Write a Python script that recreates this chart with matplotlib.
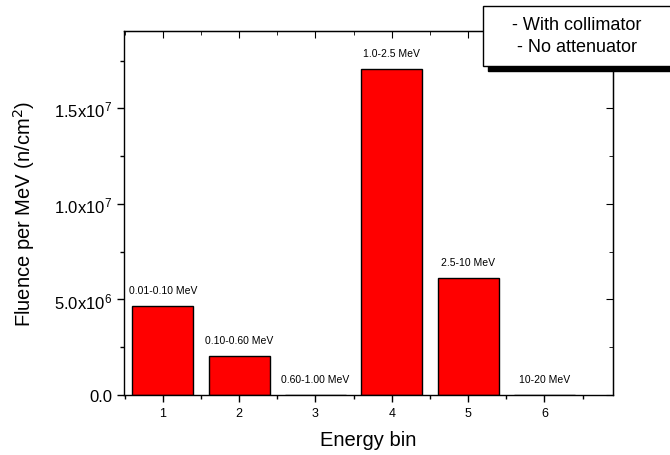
import matplotlib
matplotlib.use("Agg")
import matplotlib.pyplot as plt
from matplotlib.patches import Rectangle
from matplotlib.ticker import MultipleLocator, FuncFormatter

plt.rcParams['font.family'] = ['Liberation Sans', 'DejaVu Sans']

# fluence per energy bin
bins = [1, 2, 3, 4, 5, 6]
fluence = [4.68e6, 2.06e6, 0.0, 1.705e7, 6.12e6, 0.0]
bin_labels = ['0.01-0.10 MeV', '0.10-0.60 MeV', '0.60-1.00 MeV',
              '1.0-2.5 MeV', '2.5-10 MeV', '10-20 MeV']
notes = ['- With collimator', '- No attenuator']

fig = plt.figure(figsize=(6.7, 4.56), dpi=100)
ax = fig.add_axes([0.185, 0.1316, 0.73, 0.7982])

ax.bar(bins, fluence, width=0.8, color='#ff0000', edgecolor='black', linewidth=1.0)

for x, y, lab in zip(bins, fluence, bin_labels):
    ax.annotate(lab, (x, y), xytext=(0, 11.5), textcoords='offset points',
                ha='center', va='center', fontsize=7.5)

ax.set_xlim(0.49, 6.9)
ax.set_ylim(0, 1.905e7)
ax.xaxis.set_major_locator(MultipleLocator(1))
ax.xaxis.set_minor_locator(MultipleLocator(0.5))
ax.yaxis.set_major_locator(MultipleLocator(5e6))
ax.yaxis.set_minor_locator(MultipleLocator(2.5e6))


def sci(v, pos):
    if v == 0:
        return '0.0'
    e = len(str(int(v))) - 1
    m = v / 10 ** e
    return r'$\mathregular{%.1fx10^{%d}}$' % (m, e)


ax.yaxis.set_major_formatter(FuncFormatter(sci))
ax.tick_params(axis='y', which='major', labelsize=12, length=5, width=1, direction='out')
ax.tick_params(axis='x', which='major', labelsize=9, length=5, width=1, direction='out')
ax.tick_params(which='minor', length=3, width=1, direction='out')

# inward ticks on the top and right edges
top = ax.secondary_xaxis('top')
top.xaxis.set_major_locator(MultipleLocator(1))
top.xaxis.set_minor_locator(MultipleLocator(0.5))
top.tick_params(which='major', direction='in', length=5, labeltop=False)
top.tick_params(which='minor', direction='in', length=3)
right = ax.secondary_yaxis('right')
right.yaxis.set_major_locator(MultipleLocator(5e6))
right.yaxis.set_minor_locator(MultipleLocator(2.5e6))
right.tick_params(which='major', direction='in', length=5, labelright=False)
right.tick_params(which='minor', direction='in', length=3)

for s in ax.spines.values():
    s.set_linewidth(1.0)

ax.set_xlabel('Energy bin', fontsize=14.5, labelpad=8)
ax.set_ylabel('Fluence per MeV (n/cm$^2$)', fontsize=14.5, labelpad=12)

# note box with drop shadow in the top right corner
W, H = 670.0, 456.0
bx, by, bw, bh = 483 / W, 1 - 67 / H, 260 / W, 60 / H
fig.patches.append(Rectangle((bx + 5 / W, by - 5 / H), bw, bh, transform=fig.transFigure,
                             facecolor='black', edgecolor='black', zorder=5))
fig.patches.append(Rectangle((bx, by), bw, bh, transform=fig.transFigure,
                             facecolor='white', edgecolor='black', linewidth=1.0, zorder=6))
fig.text(577 / W, 1 - 25 / H, notes[0], ha='center', va='center', fontsize=13, zorder=7)
fig.text(577 / W, 1 - 47 / H, notes[1], ha='center', va='center', fontsize=13, zorder=7)

fig.savefig('out.png', dpi=100)
